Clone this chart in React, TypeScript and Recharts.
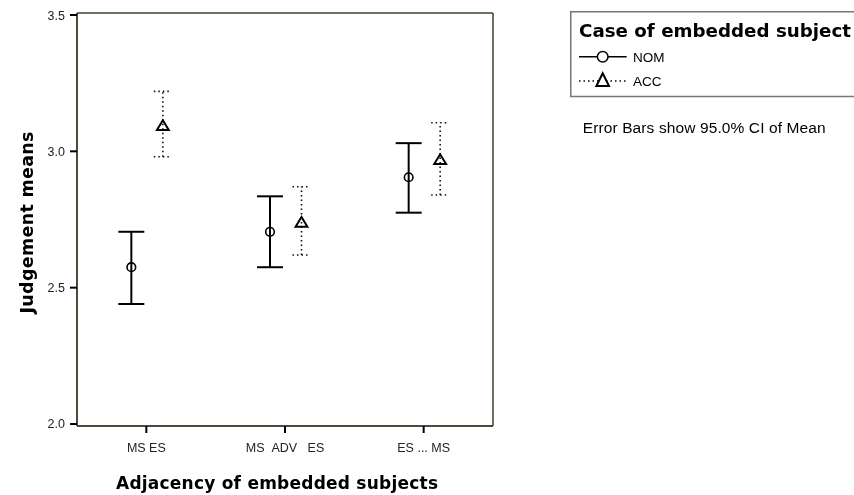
import React from 'react';
import { ComposedChart, Scatter, XAxis, YAxis, ErrorBar, Legend, CartesianGrid } from 'recharts';

const categories = ['MS ES', 'MS\u00A0\u00A0ADV\u00A0\u00A0\u00A0ES', 'ES ... MS'];
const nomMean = [2.575, 2.705, 2.905];
const nomLow = [2.44, 2.575, 2.775];
const nomHigh = [2.705, 2.835, 3.03];
const accMean = [3.095, 2.74, 2.97];
const accLow = [2.98, 2.62, 2.84];
const accHigh = [3.22, 2.87, 3.105];
const yTicks = [2.0, 2.5, 3.0, 3.5];
const seriesNames = ['NOM', 'ACC'];

const data = categories.map((cat, i) => ({
  cat,
  nom: nomMean[i],
  nomErr: [nomMean[i] - nomLow[i], nomHigh[i] - nomMean[i]],
  acc: accMean[i],
  accErr: [accMean[i] - accLow[i], accHigh[i] - accMean[i]],
}));

const FRAME = '#3f3f30';
const SANS = '"Liberation Sans", Arial, sans-serif';
const BOLD = '"DejaVu Sans", sans-serif';

const CircleShape = (p: any) =>
  p.cx == null ? null : (
    <circle cx={p.cx} cy={p.cy} r={4.3} fill="none" stroke="#000" strokeWidth={1.6} />
  );

const TriShape = (p: any) =>
  p.cx == null ? null : (
    <polygon
      points={`${p.cx},${p.cy - 5.2} ${p.cx - 5.9},${p.cy + 4.5} ${p.cx + 5.9},${p.cy + 4.5}`}
      fill="none"
      stroke="#000"
      strokeWidth={2}
    />
  );

const renderLegend = () => (
  <svg width={284} height={140} style={{ display: 'block', overflow: 'visible' }}>
    <path d="M284,0.75 H0.75 V85.5 H284" fill="none" stroke="#777" strokeWidth={1.5} />
    <text x={9} y={26.3} fontFamily={BOLD} fontWeight="bold" fontSize={18} fill="#000" textLength={272} lengthAdjust="spacingAndGlyphs">
      Case of embedded subject
    </text>
    <line x1={9} y1={45.7} x2={56.7} y2={45.7} stroke="#000" strokeWidth={1.5} />
    <circle cx={32.7} cy={45.7} r={5.3} fill="#fff" stroke="#000" strokeWidth={1.5} />
    <text x={63} y={50.7} fontFamily={SANS} fontSize={13.5} fill="#000">{seriesNames[0]}</text>
    <line x1={9} y1={70} x2={56.7} y2={70} stroke="#000" strokeWidth={1.5} strokeDasharray="1.5 3" />
    <polygon points="32.7,62.3 26.4,75 39,75" fill="#fff" stroke="#000" strokeWidth={2} />
    <text x={63} y={75} fontFamily={SANS} fontSize={13.5} fill="#000">{seriesNames[1]}</text>
    <text x={12.7} y={122.3} fontFamily={SANS} fontSize={15.5} fill="#000" textLength={243} lengthAdjust="spacing">
      Error Bars show 95.0% CI of Mean
    </text>
  </svg>
);

const YTitle = () => (
  <text x={25} y={214.5} textAnchor="middle" transform="rotate(-90, 25, 214.5)" fontFamily={BOLD} fontWeight="bold" fontSize={17.5} fill="#000" textLength={182} lengthAdjust="spacing">
    Judgement means
  </text>
);

const XTitle = () => (
  <text x={269} y={480.7} textAnchor="middle" fontFamily={BOLD} fontWeight="bold" fontSize={17} fill="#000" textLength={322} lengthAdjust="spacing">
    Adjacency of embedded subjects
  </text>
);

const edgeH = (p: any) => [p.offset.top, p.offset.top + p.offset.height];
const edgeV = (p: any) => [p.offset.left, p.offset.left + p.offset.width];

export default function App() {
  return (
    <div style={{ position: 'fixed', left: 8, top: 8 }}>
      <ComposedChart width={846} height={487} data={data} margin={{ top: 5, right: 361, bottom: 0, left: 0 }}>
        <CartesianGrid
          stroke={FRAME}
          strokeWidth={1.5}
          strokeDasharray="0"
          fill="none"
          horizontalCoordinatesGenerator={edgeH}
          verticalCoordinatesGenerator={edgeV}
        />
        <XAxis
          xAxisId="main"
          dataKey="cat"
          type="category"
          scale="band"
          interval={0}
          height={69}
          tickSize={7}
          tickMargin={10}
          tickLine={{ stroke: '#000', strokeWidth: 2 }}
          axisLine={{ stroke: FRAME, strokeWidth: 1.5 }}
          tick={{ fontSize: 12.5, fill: '#222', fontFamily: SANS }}
          label={{ content: XTitle }}
        />
        <XAxis xAxisId="nom" dataKey="cat" type="category" scale="band" orientation="top" height={0} hide padding={{ left: -15, right: 15 }} />
        <XAxis xAxisId="acc" dataKey="cat" type="category" scale="band" orientation="top" height={0} hide padding={{ left: 16.5, right: -16.5 }} />
        <YAxis
          type="number"
          domain={[2, 3.5]}
          ticks={yTicks}
          padding={{ top: 2, bottom: 2 }}
          width={69}
          tickSize={7}
          tickMargin={5}
          tickFormatter={(v: number) => v.toFixed(1)}
          tickLine={{ stroke: '#000', strokeWidth: 2 }}
          axisLine={{ stroke: FRAME, strokeWidth: 1.5 }}
          tick={{ fontSize: 12.5, fill: '#222', fontFamily: SANS }}
          label={{ content: YTitle }}
        />
        <Scatter name={seriesNames[0]} xAxisId="nom" dataKey="nom" shape={CircleShape} isAnimationActive={false}>
          <ErrorBar dataKey="nomErr" direction="y" width={13} stroke="#000" strokeWidth={2} isAnimationActive={false} />
        </Scatter>
        <Scatter name={seriesNames[1]} xAxisId="acc" dataKey="acc" shape={TriShape} isAnimationActive={false}>
          <ErrorBar dataKey="accErr" direction="y" width={9} stroke="#111" strokeWidth={1.6} strokeDasharray="1.5 3" isAnimationActive={false} />
        </Scatter>
        <Legend
          content={renderLegend}
          layout="horizontal"
          verticalAlign="middle"
          align="center"
          wrapperStyle={{ left: 562, top: 3, width: 284, height: 140 }}
        />
      </ComposedChart>
    </div>
  );
}
